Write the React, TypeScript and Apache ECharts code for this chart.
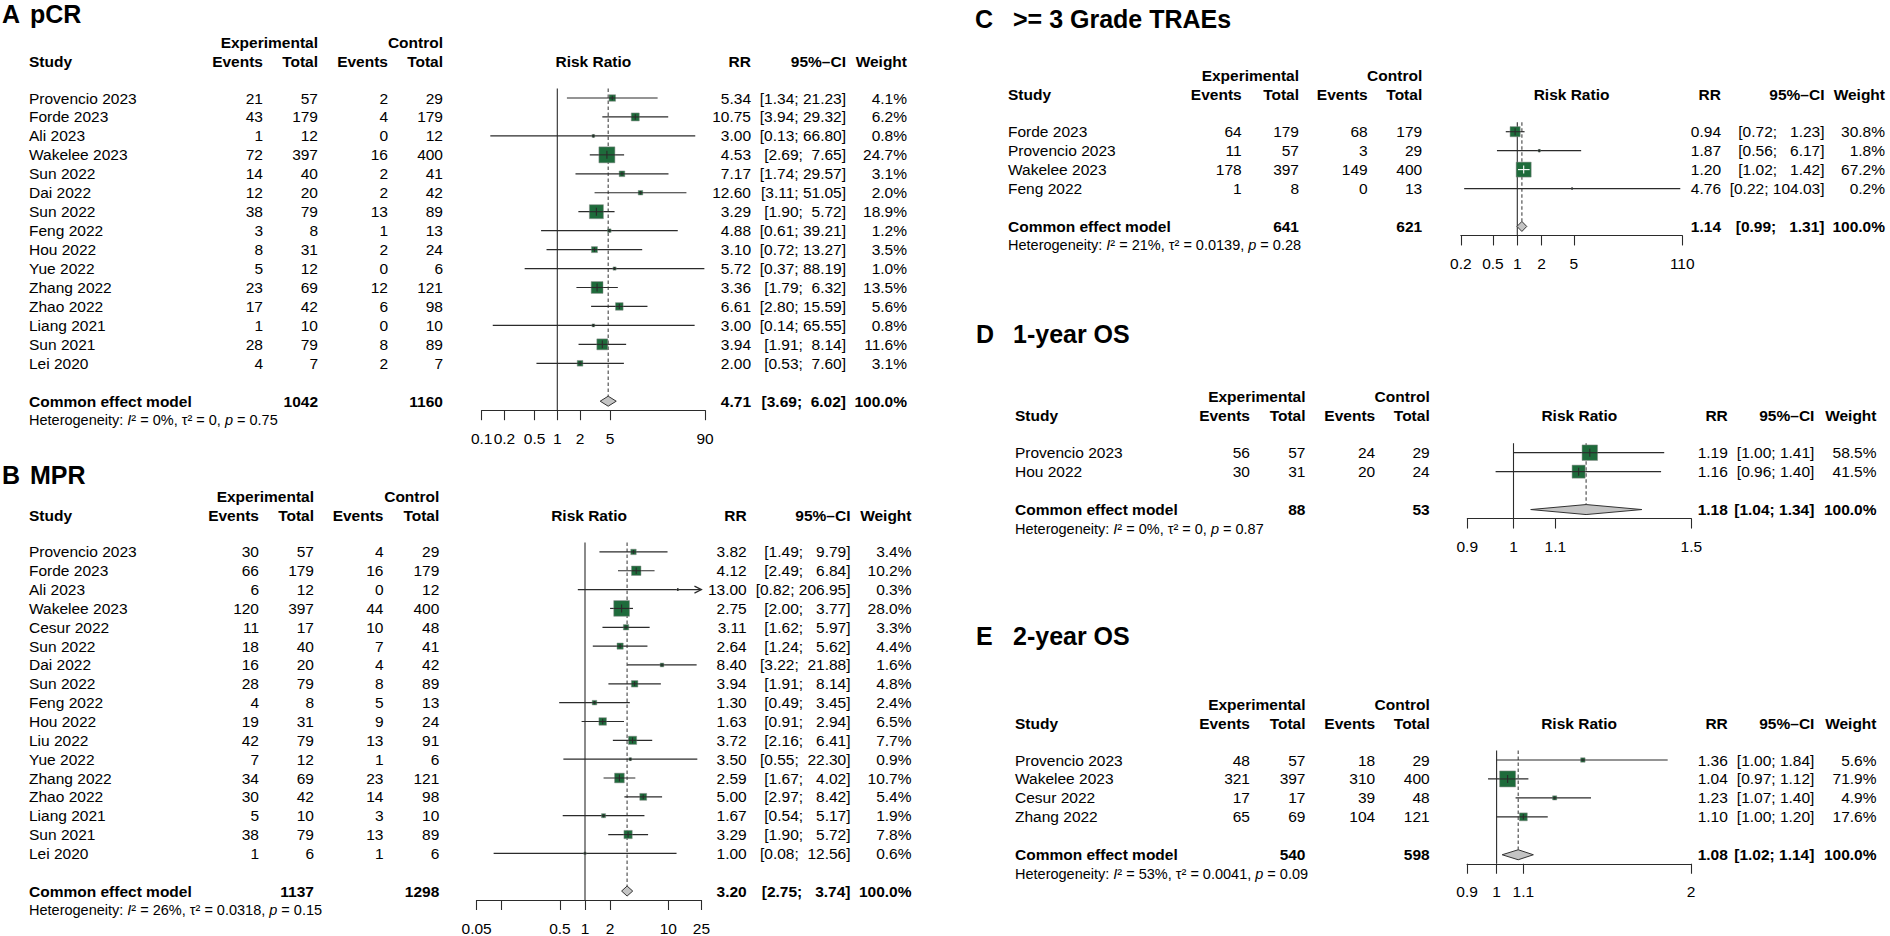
import React, { useEffect, useRef } from "react";
import * as echarts from "echarts";

// ================= DATA =================
// Panel A: pCR
const aStudies = ["Provencio 2023", "Forde 2023", "Ali 2023", "Wakelee 2023", "Sun 2022", "Dai 2022", "Sun 2022", "Feng 2022", "Hou 2022", "Yue 2022", "Zhang 2022", "Zhao 2022", "Liang 2021", "Sun 2021", "Lei 2020"];
const aExpEvents = [21, 43, 1, 72, 14, 12, 38, 3, 8, 5, 23, 17, 1, 28, 4];
const aExpTotal = [57, 179, 12, 397, 40, 20, 79, 8, 31, 12, 69, 42, 10, 79, 7];
const aCtrlEvents = [2, 4, 0, 16, 2, 2, 13, 1, 2, 0, 12, 6, 0, 8, 2];
const aCtrlTotal = [29, 179, 12, 400, 41, 42, 89, 13, 24, 6, 121, 98, 10, 89, 7];
const aRR = [5.34, 10.75, 3.0, 4.53, 7.17, 12.6, 3.29, 4.88, 3.1, 5.72, 3.36, 6.61, 3.0, 3.94, 2.0];
const aLower = [1.34, 3.94, 0.13, 2.69, 1.74, 3.11, 1.9, 0.61, 0.72, 0.37, 1.79, 2.8, 0.14, 1.91, 0.53];
const aUpper = [21.23, 29.32, 66.8, 7.65, 29.57, 51.05, 5.72, 39.21, 13.27, 88.19, 6.32, 15.59, 65.55, 8.14, 7.6];
const aWeight = [4.1, 6.2, 0.8, 24.7, 3.1, 2.0, 18.9, 1.2, 3.5, 1.0, 13.5, 5.6, 0.8, 11.6, 3.1];
const aCommon = [1042, 1160, 4.71, 3.69, 6.02];
const aHet = ["0%", "0", "0.75"];
const aTicks = [0.1, 0.2, 0.5, 1, 2, 5, 90];
const aTickLabels = ["0.1", "0.2", "0.5", "1", "2", "5", "90"];

// Panel B: MPR
const bStudies = ["Provencio 2023", "Forde 2023", "Ali 2023", "Wakelee 2023", "Cesur 2022", "Sun 2022", "Dai 2022", "Sun 2022", "Feng 2022", "Hou 2022", "Liu 2022", "Yue 2022", "Zhang 2022", "Zhao 2022", "Liang 2021", "Sun 2021", "Lei 2020"];
const bExpEvents = [30, 66, 6, 120, 11, 18, 16, 28, 4, 19, 42, 7, 34, 30, 5, 38, 1];
const bExpTotal = [57, 179, 12, 397, 17, 40, 20, 79, 8, 31, 79, 12, 69, 42, 10, 79, 6];
const bCtrlEvents = [4, 16, 0, 44, 10, 7, 4, 8, 5, 9, 13, 1, 23, 14, 3, 13, 1];
const bCtrlTotal = [29, 179, 12, 400, 48, 41, 42, 89, 13, 24, 91, 6, 121, 98, 10, 89, 6];
const bRR = [3.82, 4.12, 13.0, 2.75, 3.11, 2.64, 8.4, 3.94, 1.3, 1.63, 3.72, 3.5, 2.59, 5.0, 1.67, 3.29, 1.0];
const bLower = [1.49, 2.49, 0.82, 2.0, 1.62, 1.24, 3.22, 1.91, 0.49, 0.91, 2.16, 0.55, 1.67, 2.97, 0.54, 1.9, 0.08];
const bUpper = [9.79, 6.84, 206.95, 3.77, 5.97, 5.62, 21.88, 8.14, 3.45, 2.94, 6.41, 22.3, 4.02, 8.42, 5.17, 5.72, 12.56];
const bWeight = [3.4, 10.2, 0.3, 28.0, 3.3, 4.4, 1.6, 4.8, 2.4, 6.5, 7.7, 0.9, 10.7, 5.4, 1.9, 7.8, 0.6];
const bCommon = [1137, 1298, 3.2, 2.75, 3.74];
const bHet = ["26%", "0.0318", "0.15"];
const bTicks = [0.05, 0.1, 0.5, 1, 2, 10, 25];
const bTickLabels = ["0.05", "", "0.5", "1", "2", "10", "25"];

// Panel C: >= 3 Grade TRAEs
const cStudies = ["Forde 2023", "Provencio 2023", "Wakelee 2023", "Feng 2022"];
const cExpEvents = [64, 11, 178, 1];
const cExpTotal = [179, 57, 397, 8];
const cCtrlEvents = [68, 3, 149, 0];
const cCtrlTotal = [179, 29, 400, 13];
const cRR = [0.94, 1.87, 1.2, 4.76];
const cLower = [0.72, 0.56, 1.02, 0.22];
const cUpper = [1.23, 6.17, 1.42, 104.03];
const cWeight = [30.8, 1.8, 67.2, 0.2];
const cCommon = [641, 621, 1.14, 0.99, 1.31];
const cHet = ["21%", "0.0139", "0.28"];
const cTicks = [0.2, 0.5, 1, 2, 5, 110];
const cTickLabels = ["0.2", "0.5", "1", "2", "5", "110"];

// Panel D: 1-year OS
const dStudies = ["Provencio 2023", "Hou 2022"];
const dExpEvents = [56, 30];
const dExpTotal = [57, 31];
const dCtrlEvents = [24, 20];
const dCtrlTotal = [29, 24];
const dRR = [1.19, 1.16];
const dLower = [1.0, 0.96];
const dUpper = [1.41, 1.4];
const dWeight = [58.5, 41.5];
const dCommon = [88, 53, 1.18, 1.04, 1.34];
const dHet = ["0%", "0", "0.87"];
const dTicks = [0.9, 1, 1.1, 1.5];
const dTickLabels = ["0.9", "1", "1.1", "1.5"];

// Panel E: 2-year OS
const eStudies = ["Provencio 2023", "Wakelee 2023", "Cesur 2022", "Zhang 2022"];
const eExpEvents = [48, 321, 17, 65];
const eExpTotal = [57, 397, 17, 69];
const eCtrlEvents = [18, 310, 39, 104];
const eCtrlTotal = [29, 400, 48, 121];
const eRR = [1.36, 1.04, 1.23, 1.1];
const eLower = [1.0, 0.97, 1.07, 1.0];
const eUpper = [1.84, 1.12, 1.4, 1.2];
const eWeight = [5.6, 71.9, 4.9, 17.6];
const eCommon = [540, 598, 1.08, 1.02, 1.14];
const eHet = ["53%", "0.0041", "0.09"];
const eTicks = [0.9, 1, 1.1, 2];
const eTickLabels = ["0.9", "1", "1.1", "2"];

// ================= STYLE / LAYOUT =================
const FONT = '"Liberation Sans", Arial, Helvetica, sans-serif';
const FS = 15.5;
const FS_HET = 14.5;
const DY = 18.95;
const GREEN = "#1e6b3b";
const LINE = "#2b2b2b";
const TXT = "#000";

type Layout = {
  letterX: number; titleX: number; titleY: number; row1: number;
  study: number; expEv: number; expTot: number; ctrlEv: number; ctrlTot: number;
  rr: number; ci: number; w: number; x1: number; perDec: number; sq: number;
};

const layoutA: Layout = { letterX: 2, titleX: 30, titleY: 14, row1: 98, study: 29, expEv: 263, expTot: 318, ctrlEv: 388, ctrlTot: 443, rr: 751, ci: 846, w: 907, x1: 557.3, perDec: 75.6, sq: 16 };
const layoutB: Layout = { letterX: 2, titleX: 30, titleY: 475, row1: 552.3, study: 29, expEv: 259, expTot: 314, ctrlEv: 383.5, ctrlTot: 439.3, rr: 746.7, ci: 850.5, w: 911.5, x1: 585, perDec: 83.3, sq: 15.7 };
const layoutC: Layout = { letterX: 975, titleX: 1013, titleY: 18.5, row1: 131.7, study: 1008, expEv: 1241.7, expTot: 1299, ctrlEv: 1367.7, ctrlTot: 1422.2, rr: 1721, ci: 1824.5, w: 1885, x1: 1517.3, perDec: 80.8, sq: 15 };
const layoutD: Layout = { letterX: 976, titleX: 1013, titleY: 334, row1: 452.7, study: 1015, expEv: 1250, expTot: 1305.5, ctrlEv: 1375.2, ctrlTot: 1429.7, rr: 1727.8, ci: 1814.4, w: 1876.5, x1: 1513.5, perDec: 1010, sq: 15.5 };
const layoutE: Layout = { letterX: 976, titleX: 1013, titleY: 636, row1: 760, study: 1015, expEv: 1250, expTot: 1305.5, ctrlEv: 1375.2, ctrlTot: 1429.7, rr: 1727.8, ci: 1814.4, w: 1876.5, x1: 1496.6, perDec: 646, sq: 16 };

type Panel = {
  letter: string; title: string; studies: string[];
  expEv: number[]; expTot: number[]; ctrlEv: number[]; ctrlTot: number[];
  rr: number[]; lo: number[]; hi: number[]; w: number[];
  common: number[]; het: string[]; ticks: number[]; tickLabels: string[]; L: Layout;
};

const panels: Panel[] = [
  { letter: "A", title: "pCR", studies: aStudies, expEv: aExpEvents, expTot: aExpTotal, ctrlEv: aCtrlEvents, ctrlTot: aCtrlTotal, rr: aRR, lo: aLower, hi: aUpper, w: aWeight, common: aCommon, het: aHet, ticks: aTicks, tickLabels: aTickLabels, L: layoutA },
  { letter: "B", title: "MPR", studies: bStudies, expEv: bExpEvents, expTot: bExpTotal, ctrlEv: bCtrlEvents, ctrlTot: bCtrlTotal, rr: bRR, lo: bLower, hi: bUpper, w: bWeight, common: bCommon, het: bHet, ticks: bTicks, tickLabels: bTickLabels, L: layoutB },
  { letter: "C", title: ">= 3 Grade TRAEs", studies: cStudies, expEv: cExpEvents, expTot: cExpTotal, ctrlEv: cCtrlEvents, ctrlTot: cCtrlTotal, rr: cRR, lo: cLower, hi: cUpper, w: cWeight, common: cCommon, het: cHet, ticks: cTicks, tickLabels: cTickLabels, L: layoutC },
  { letter: "D", title: "1-year OS", studies: dStudies, expEv: dExpEvents, expTot: dExpTotal, ctrlEv: dCtrlEvents, ctrlTot: dCtrlTotal, rr: dRR, lo: dLower, hi: dUpper, w: dWeight, common: dCommon, het: dHet, ticks: dTicks, tickLabels: dTickLabels, L: layoutD },
  { letter: "E", title: "2-year OS", studies: eStudies, expEv: eExpEvents, expTot: eExpTotal, ctrlEv: eCtrlEvents, ctrlTot: eCtrlTotal, rr: eRR, lo: eLower, hi: eUpper, w: eWeight, common: eCommon, het: eHet, ticks: eTicks, tickLabels: eTickLabels, L: layoutE },
];

const NB = "\u00A0";
const padLeft = (s: string, len: number) => NB.repeat(Math.max(0, len - s.length)) + s;

function ciStrings(lo: number[], hi: number[]) {
  const los = lo.map((v) => v.toFixed(2));
  const his = hi.map((v) => v.toFixed(2));
  const ml = Math.max(...los.map((s) => s.length));
  const mh = Math.max(...his.map((s) => s.length));
  return los.map((l, i) => `[${padLeft(l, ml)}; ${padLeft(his[i], mh)}]`);
}

type Cell = { row: number; x: number; align: string; text: string; bold?: boolean; het?: boolean };

function buildCells(P: Panel, plotCenter: number): Cell[] {
  const L = P.L;
  const n = P.studies.length;
  const cells: Cell[] = [];
  const h1 = -2.95, h2 = -1.95;
  cells.push({ row: h1, x: L.expTot, align: "right", text: "Experimental", bold: true });
  cells.push({ row: h1, x: L.ctrlTot, align: "right", text: "Control", bold: true });
  cells.push({ row: h2, x: L.study, align: "left", text: "Study", bold: true });
  cells.push({ row: h2, x: L.expEv, align: "right", text: "Events", bold: true });
  cells.push({ row: h2, x: L.expTot, align: "right", text: "Total", bold: true });
  cells.push({ row: h2, x: L.ctrlEv, align: "right", text: "Events", bold: true });
  cells.push({ row: h2, x: L.ctrlTot, align: "right", text: "Total", bold: true });
  cells.push({ row: h2, x: plotCenter, align: "center", text: "Risk Ratio", bold: true });
  cells.push({ row: h2, x: L.rr, align: "right", text: "RR", bold: true });
  cells.push({ row: h2, x: L.ci, align: "right", text: "95%\u2013CI", bold: true });
  cells.push({ row: h2, x: L.w, align: "right", text: "Weight", bold: true });
  const cis = ciStrings([...P.lo, P.common[3]], [...P.hi, P.common[4]]);
  for (let i = 0; i < n; i++) {
    cells.push({ row: i, x: L.study, align: "left", text: P.studies[i] });
    cells.push({ row: i, x: L.expEv, align: "right", text: String(P.expEv[i]) });
    cells.push({ row: i, x: L.expTot, align: "right", text: String(P.expTot[i]) });
    cells.push({ row: i, x: L.ctrlEv, align: "right", text: String(P.ctrlEv[i]) });
    cells.push({ row: i, x: L.ctrlTot, align: "right", text: String(P.ctrlTot[i]) });
    cells.push({ row: i, x: L.rr, align: "right", text: P.rr[i].toFixed(2) });
    cells.push({ row: i, x: L.ci, align: "right", text: cis[i] });
    cells.push({ row: i, x: L.w, align: "right", text: P.w[i].toFixed(1) + "%" });
  }
  const ce = n + 1;
  cells.push({ row: ce, x: L.study, align: "left", text: "Common effect model", bold: true });
  cells.push({ row: ce, x: L.expTot, align: "right", text: String(P.common[0]), bold: true });
  cells.push({ row: ce, x: L.ctrlTot, align: "right", text: String(P.common[1]), bold: true });
  cells.push({ row: ce, x: L.rr, align: "right", text: P.common[2].toFixed(2), bold: true });
  cells.push({ row: ce, x: L.ci, align: "right", text: cis[n], bold: true });
  cells.push({ row: ce, x: L.w, align: "right", text: "100.0%", bold: true });
  cells.push({
    row: n + 2, x: L.study, align: "left", het: true,
    text: `Heterogeneity: {it|I}\u00B2 = ${P.het[0]}, \u03C4\u00B2 = ${P.het[1]}, {it|p} = ${P.het[2]}`,
  });
  return cells;
}

function buildOption() {
  const grid: any[] = [];
  const xAxis: any[] = [];
  const yAxis: any[] = [];
  const series: any[] = [];
  const graphic: any[] = [];

  panels.forEach((P, pi) => {
    const L = P.L;
    const n = P.studies.length;
    const lmin = Math.log10(P.ticks[0]);
    const lmax = Math.log10(P.ticks[P.ticks.length - 1]);
    const yMax = n + 1 + 9 / DY;
    const gLeft = L.x1 + L.perDec * lmin;
    const gWidth = L.perDec * (lmax - lmin);
    grid.push({ left: gLeft, top: L.row1 - 3.5 * DY, width: gWidth, height: (yMax + 3.5) * DY, containLabel: false });

    const labeled = P.ticks.filter((_, i) => P.tickLabels[i] !== "").map((t) => Math.log10(t));
    const fmt = (v: number) => {
      const idx = P.ticks.findIndex((t) => Math.abs(Math.log10(t) - v) < 1e-6);
      return idx >= 0 ? P.tickLabels[idx] : "";
    };
    xAxis.push({
      type: "value", gridIndex: pi, min: lmin, max: lmax, position: "bottom",
      axisLine: { show: true, onZero: false, lineStyle: { color: LINE, width: 1.1 } },
      axisTick: { show: true, inside: false, length: 10, customValues: P.ticks.map((t) => Math.log10(t)), lineStyle: { color: LINE, width: 1.1 } },
      axisLabel: { show: true, customValues: labeled, formatter: fmt, margin: 20, fontSize: FS, fontFamily: FONT, color: TXT },
      splitLine: { show: false },
    });
    yAxis.push({ type: "value", gridIndex: pi, min: -3.5, max: yMax, inverse: true, show: false });

    const lce = Math.log10(P.common[2]);
    const lceLo = Math.log10(P.common[3]);
    const lceHi = Math.log10(P.common[4]);
    // reference lines + diamond
    series.push({
      type: "custom", xAxisIndex: pi, yAxisIndex: pi, clip: false, silent: true,
      data: [[lce, n + 1, lceLo, lceHi]],
      renderItem: (params: any, api: any) => {
        const v = api.value(0), row = api.value(1), lo = api.value(2), hi = api.value(3);
        const top = api.coord([0, -0.5]);
        const bot = api.coord([0, yMax]);
        const c = api.coord([v, row]);
        const xl = api.coord([lo, row])[0];
        const xh = api.coord([hi, row])[0];
        const hh = 5;
        return {
          type: "group",
          children: [
            { type: "line", shape: { x1: top[0], y1: top[1], x2: bot[0], y2: bot[1] }, style: { stroke: LINE, lineWidth: 1.1 } },
            { type: "line", shape: { x1: c[0], y1: top[1], x2: c[0], y2: c[1] - hh }, style: { stroke: "#444", lineWidth: 1.1, lineDash: [3.5, 2.5] } },
            { type: "polygon", shape: { points: [[xl, c[1]], [c[0], c[1] - hh], [xh, c[1]], [c[0], c[1] + hh]] }, style: { fill: "#c4c4c4", stroke: "#333", lineWidth: 1 } },
          ],
        };
      },
    });

    // studies
    const wMax = Math.max(...P.w);
    series.push({
      type: "custom", xAxisIndex: pi, yAxisIndex: pi, clip: false, silent: true,
      data: P.rr.map((r, i) => [Math.log10(r), i, Math.log10(P.lo[i]), Math.log10(P.hi[i]), P.w[i]]),
      renderItem: (params: any, api: any) => {
        const lrr = api.value(0), row = api.value(1), llo = api.value(2), lhi = api.value(3), w = api.value(4);
        const c = api.coord([lrr, row]);
        const y = c[1], xr = c[0];
        const xl = api.coord([Math.max(llo, lmin), row])[0];
        const xh = api.coord([Math.min(lhi, lmax), row])[0];
        const s = L.sq * Math.sqrt(w / wMax);
        const ch: any[] = [];
        ch.push({ type: "line", shape: { x1: xl, y1: y, x2: xh, y2: y }, style: { stroke: LINE, lineWidth: 1.2 } });
        if (lhi > lmax) ch.push({ type: "polyline", shape: { points: [[xh - 7, y - 3.5], [xh, y], [xh - 7, y + 3.5]] }, style: { stroke: LINE, fill: null, lineWidth: 1.2 } });
        if (llo < lmin) ch.push({ type: "polyline", shape: { points: [[xl + 7, y - 3.5], [xl, y], [xl + 7, y + 3.5]] }, style: { stroke: LINE, fill: null, lineWidth: 1.2 } });
        ch.push({ type: "rect", shape: { x: xr - s / 2, y: y - s / 2, width: s, height: s }, style: { fill: GREEN, stroke: "#8a8a8a", lineWidth: 0.5 } });
        const inside = xl >= xr - s / 2 && xh <= xr + s / 2;
        const col = inside ? "#ffffff" : LINE;
        const a = Math.max(xl, xr - s / 2), b = Math.min(xh, xr + s / 2);
        ch.push({ type: "line", shape: { x1: a, y1: y, x2: b, y2: y }, style: { stroke: col, lineWidth: 1.1 } });
        const th = Math.min(4, Math.max(1.5, s * 0.35));
        ch.push({ type: "line", shape: { x1: xr, y1: y - th, x2: xr, y2: y + th }, style: { stroke: col, lineWidth: 1.1 } });
        return { type: "group", children: ch };
      },
    });

    // table texts
    const cells = buildCells(P, gLeft + gWidth / 2);
    series.push({
      type: "custom", xAxisIndex: pi, yAxisIndex: pi, clip: false, silent: true,
      data: cells.map((c, i) => [lmin, c.row, i]),
      renderItem: (params: any, api: any) => {
        const cell = cells[api.value(2)];
        const y = api.coord([lmin, cell.row])[1];
        const style: any = {
          text: cell.text, fill: TXT, fontFamily: FONT,
          fontSize: cell.het ? FS_HET : FS, fontWeight: cell.bold ? "bold" : "normal",
          align: cell.align, textAlign: cell.align, verticalAlign: "middle", textVerticalAlign: "middle",
        };
        if (cell.het) {
          style.rich = { it: { fontStyle: "italic", fontSize: FS_HET, fontFamily: FONT, fill: TXT } };
        }
        return { type: "text", x: cell.x, y, style };
      },
    });

    graphic.push({ type: "text", x: L.letterX, y: L.titleY, silent: true, style: { text: P.letter, fill: TXT, fontFamily: FONT, fontSize: 25, fontWeight: "bold", verticalAlign: "middle", textVerticalAlign: "middle" } });
    graphic.push({ type: "text", x: L.titleX, y: L.titleY, silent: true, style: { text: P.title, fill: TXT, fontFamily: FONT, fontSize: 25, fontWeight: "bold", verticalAlign: "middle", textVerticalAlign: "middle" } });
  });

  return { animation: false, backgroundColor: "#ffffff", grid, xAxis, yAxis, series, graphic };
}

export default function App() {
  const ref = useRef<HTMLDivElement>(null);
  useEffect(() => {
    if (!ref.current) return;
    const chart = echarts.init(ref.current, null, { renderer: "svg" });
    chart.setOption(buildOption() as any);
    return () => chart.dispose();
  }, []);
  return <div ref={ref} style={{ position: "absolute", left: 0, top: 0, width: 1890, height: 936, background: "#fff" }} />;
}
